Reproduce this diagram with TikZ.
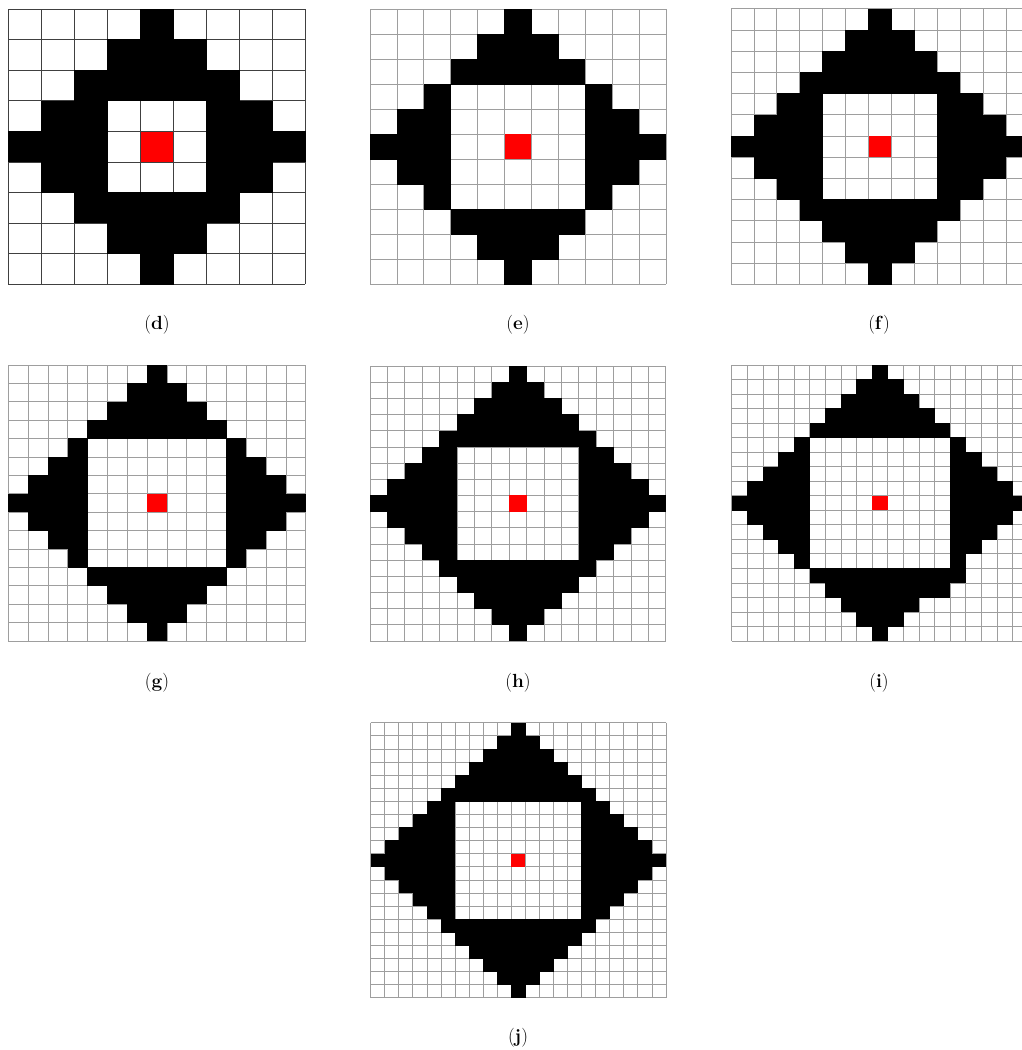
\documentclass[tikz,border=0pt]{standalone}
\begin{document}
\begin{tikzpicture}[x=1pt,y=-1pt,
  gridA/.style={draw=black!75, line width=0.9pt},
  gridB/.style={draw=black!38, line width=0.8pt},
  lbl/.style={font=\fontsize{19}{22}\selectfont, inner sep=0pt}]
\useasboundingbox (0,0) rectangle (1022,1050);
\clip (0,0) rectangle (1022,1050);
\fill[white] (0,0) rectangle (1022,1050);
% #1 x0, #2 y0, #3 N, #4 cell w, #5 cell h, #6 radius, #7 inner half size, #8 line style
\newcommand\drawgrid[8]{%
  \pgfmathtruncatemacro\gN{#3-1}%
  \pgfmathtruncatemacro\gc{(#3-1)/2}%
  \foreach \k in {0,...,#3} {
    \draw[#8] (#1+\k*#4, #2) -- (#1+\k*#4, #2+#3*#5);
    \draw[#8] (#1, #2+\k*#5) -- (#1+#3*#4, #2+\k*#5);
  }
  \foreach \i in {0,...,\gN} {
    \foreach \j in {0,...,\gN} {
      \pgfmathtruncatemacro\isb{((abs(\i-\gc)+abs(\j-\gc))<=#6) && !((abs(\i-\gc)<=#7) && (abs(\j-\gc)<=#7))}
      \ifnum\isb=1\relax
        \fill[black] (#1+\i*#4-0.2, #2+\j*#5-0.2) rectangle ++(#4+0.4,#5+0.4);
      \fi
    }
  }
  \fill[red] (#1+\gc*#4, #2+\gc*#5) rectangle ++(#4,#5);
}
% (d)
\drawgrid{8.3}{9}{9}{33.0}{30.6}{4}{1}{gridA}
\draw[gridA] (8.3+4*33.0, 9+4*30.6) rectangle ++(33.0,30.6);
% (e)
\drawgrid{370}{9.3}{11}{26.9}{25.0}{5}{2}{gridB}
% (f)
\drawgrid{731}{8.7}{13}{22.92}{21.2}{6}{2}{gridB}
% (g)
\drawgrid{8.3}{365}{15}{19.83}{18.4}{7}{3}{gridB}
% (h)
\drawgrid{370}{366}{17}{17.4}{16.18}{8}{3}{gridB}
% (i)
\drawgrid{731.7}{365}{19}{15.6}{14.53}{9}{4}{gridB}
\fill[black] (731.7+14*15.6-0.2, 365+14*14.53-0.2) rectangle ++(15.6+0.4,14.53+0.4);
\fill[black] (731.7+13*15.6-0.2, 365+15*14.53-0.2) rectangle ++(15.6+0.4,14.53+0.4);
% (j)
\drawgrid{370.7}{722.7}{21}{14.06}{13.1}{10}{4}{gridB}
% labels
\node[lbl] (ld) at (157,325) {(\textbf{d})};
\node[lbl] (le) at (518,325) {(\textbf{e})};
\node[lbl] (lf) at (879,325) {(\textbf{f})};
\node[lbl] (lg) at (157,683) {(\textbf{g})};
\node[lbl] (lh) at (518,683) {(\textbf{h})};
\node[lbl] (li) at (879,683) {(\textbf{i})};
\node[lbl] (lj) at (518,1038) {(\textbf{j})};
\end{tikzpicture}
\end{document}
